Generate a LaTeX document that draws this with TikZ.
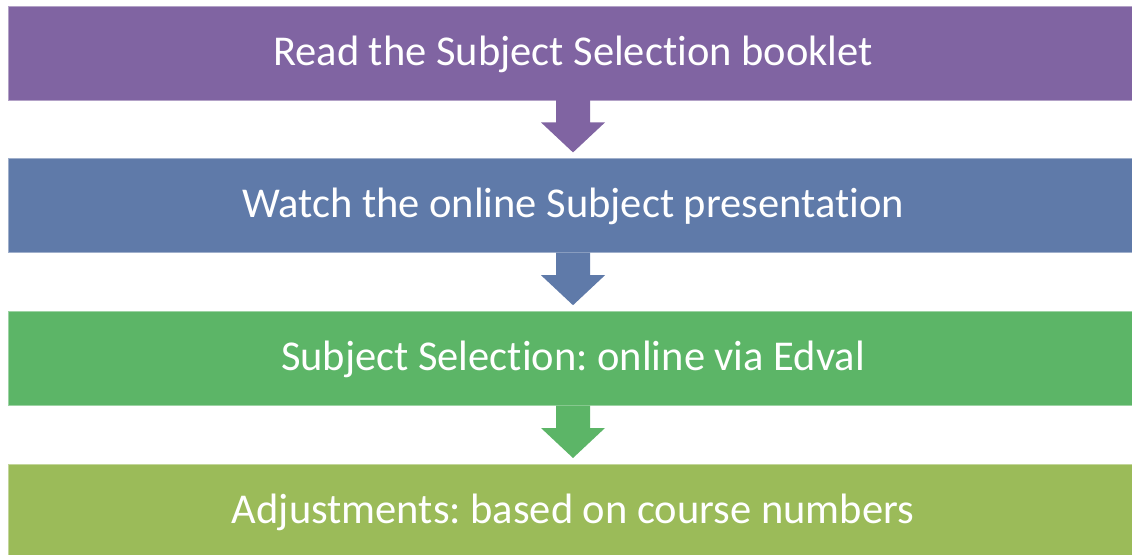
\documentclass[tikz,border=0pt]{standalone}
\usepackage{fontspec}
\setmainfont{Carlito}[Ligatures={NoCommon}]
\usepackage{tikz}
\usetikzlibrary{positioning,calc}
\frenchspacing

\definecolor{stepviolet}{HTML}{8064A2}
\definecolor{stepblue}{HTML}{5F7AA9}
\definecolor{stepgreen}{HTML}{5CB567}
\definecolor{stepolive}{HTML}{9BBB59}

\begin{document}
\begin{tikzpicture}[x=1pt,y=1pt,node distance=58pt,
      stepbox/.style={draw=#1!60!white,fill=#1,line width=0.8pt,minimum width=1130pt,minimum height=94pt,
        inner sep=0pt,text height=30pt,text depth=6pt,text=white,font=\fontsize{42.5}{45}\selectfont},
      downarrow/.style={fill=#1,draw=none}]
      \useasboundingbox (0,0) rectangle (1132,-554);
      \clip (0,0) rectangle (1132,-554);
      \node[stepbox=stepviolet] (read) at (573,-53) {Read the Subject Selection booklet};
      \node[stepbox=stepblue]   (watch)  [below=of read]  {Watch the online Subject presentation};
      \node[stepbox=stepgreen]  (select) [below=of watch] {Subject Selection: online via Edval};
      \node[stepbox=stepolive]  (adjust) [below=of select] {Adjustments: based on course numbers};
      % arrows between the steps
      \foreach \a/\b/\c in {read/watch/stepviolet,watch/select/stepblue,select/adjust/stepgreen}{
        \fill[downarrow=\c] ($(\a.south)+(-17,0.5)$) -- ($(\a.south)+(-17,-22)$) -- ($(\a.south)+(-32,-22)$)
          -- ($(\b.north)+(0,6)$) -- ($(\a.south)+(32,-22)$) -- ($(\a.south)+(17,-22)$)
          -- ($(\a.south)+(17,0.5)$) -- cycle;
      }
    \end{tikzpicture}
\end{document}
